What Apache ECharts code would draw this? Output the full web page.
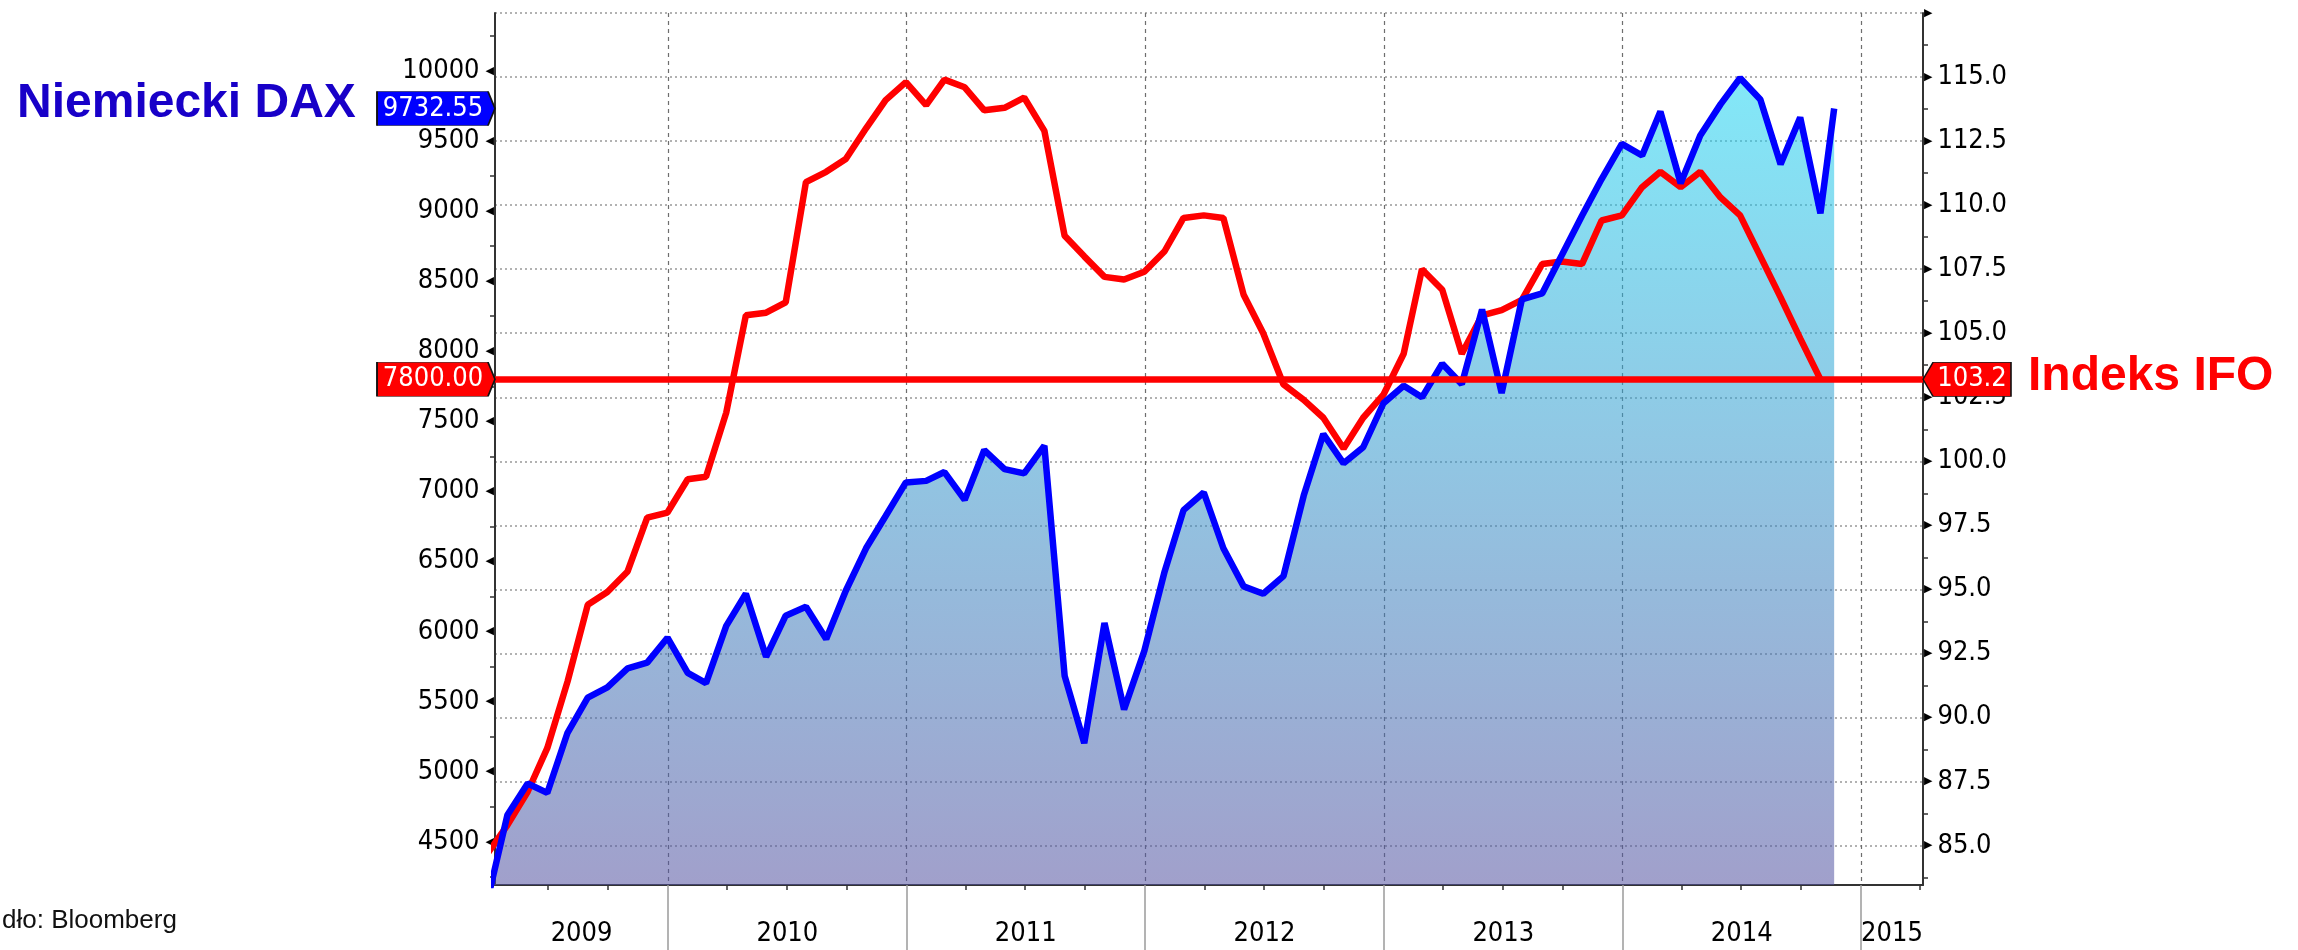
<!DOCTYPE html>
<html>
<head>
<meta charset="utf-8">
<script src="https://cdn.jsdelivr.net/npm/echarts@6/dist/echarts.min.js"></script>
<style>
  html, body { margin: 0; padding: 0; background: #fff; }
  #chart { width: 2298px; height: 950px; }
</style>
</head>
<body>
<div id="chart"></div>
<script>
  // month-end observations, Mar 2009 .. Oct 2014
  var months = [
    '2009-03', '2009-04', '2009-05', '2009-06', '2009-07', '2009-08', '2009-09', '2009-10', '2009-11', '2009-12',
    '2010-01', '2010-02', '2010-03', '2010-04', '2010-05', '2010-06', '2010-07', '2010-08', '2010-09', '2010-10', '2010-11', '2010-12',
    '2011-01', '2011-02', '2011-03', '2011-04', '2011-05', '2011-06', '2011-07', '2011-08', '2011-09', '2011-10', '2011-11', '2011-12',
    '2012-01', '2012-02', '2012-03', '2012-04', '2012-05', '2012-06', '2012-07', '2012-08', '2012-09', '2012-10', '2012-11', '2012-12',
    '2013-01', '2013-02', '2013-03', '2013-04', '2013-05', '2013-06', '2013-07', '2013-08', '2013-09', '2013-10', '2013-11', '2013-12',
    '2014-01', '2014-02', '2014-03', '2014-04', '2014-05', '2014-06', '2014-07', '2014-08', '2014-09', '2014-10'
  ]
  var daxLastDay = '2014-11-21'

  var dax = [
    4093, 4690, 4915, 4848, 5277, 5528, 5601, 5737, 5778, 5956,
    5705, 5632, 6040, 6270, 5820, 6113, 6176, 5946, 6291, 6594, 6824, 7064,
    7075, 7138, 6939, 7295, 7159, 7128, 7326, 5684, 5203, 6061, 5444, 5862,
    6427, 6866, 6992, 6594, 6322, 6270, 6395, 6970, 7409, 7200, 7315, 7629,
    7754, 7671, 7911, 7765, 8298, 7702, 8371, 8413, 8685, 8967, 9229, 9480,
    9397, 9711, 9199, 9540, 9762, 9950, 9797, 9335, 9668, 8985, 9732.55
  ]
  var ifo = [
    84.7, 85.8, 87.1, 88.8, 91.4, 94.4, 94.9, 95.7, 97.8, 98.0,
    99.3, 99.4, 101.9, 105.7, 105.8, 106.2, 110.9, 111.3, 111.8, 113.0, 114.1, 114.8,
    113.9, 114.9, 114.6, 113.7, 113.8, 114.2, 112.9, 108.8, 108.0, 107.2, 107.1, 107.4,
    108.2, 109.5, 109.6, 109.5, 106.5, 105.0, 103.0, 102.4, 101.7, 100.5, 101.7, 102.6,
    104.2, 107.5, 106.7, 104.2, 105.7, 105.9, 106.3, 107.7, 107.8, 107.7, 109.4, 109.6,
    110.7, 111.3, 110.7, 111.3, 110.3, 109.6, 108.0, 106.4, 104.8, 103.2
  ]
  // DAX level matching the IFO reference line
  var ifoLevelOnDax = 7800

  var years = [2009, 2010, 2011, 2012, 2013, 2014, 2015]
  var daxTicks = [4500, 5000, 5500, 6000, 6500, 7000, 7500, 8000, 8500, 9000, 9500, 10000]
  var ifoTicks = [85, 87.5, 90, 92.5, 95, 97.5, 100, 102.5, 105, 107.5, 110, 112.5, 115, 117.5]

  function monthEnd(s) { var p = s.split('-'); return Date.UTC(+p[0], +p[1], 0) }
  function day(s) { var p = s.split('-'); return Date.UTC(+p[0], +p[1] - 1, +p[2]) }

  var xMin = day('2009-04-11')
  var xMax = day('2015-04-06')

  var daxDates = months.map(monthEnd).concat(day(daxLastDay))
  var daxData = dax.map(function (v, i) { return [daxDates[i], v] })
  var ifoData = ifo.map(function (v, i) { return [monthEnd(months[i]), v] })
  var daxLast = dax[dax.length - 1]
  var ifoLast = ifo[ifo.length - 1]

  var yearStarts = years.map(function (y) { return Date.UTC(y, 0, 1) })
  var yearMids = years.map(function (y) {
    return (Math.max(Date.UTC(y, 0, 1), xMin) + Math.min(Date.UTC(y + 1, 0, 1), xMax)) / 2
  })
  var quarterTicks = []
  years.forEach(function (y) {
    [3, 6, 9].forEach(function (m) { quarterTicks.push(Date.UTC(y, m, 1)) })
  })
  var daxMinor = daxTicks.map(function (v) { return v - 250 }).concat(10250)
  var ifoMinor = ifoTicks.map(function (v) { return v - 1.25 })

  var labelFont = '"DejaVu Sans Condensed", "DejaVu Sans", sans-serif'
  var bigFont = 'bold 48px "Liberation Sans", Arial, sans-serif'
  var axisColor = '#333'
  var tickSize = 27

  var chart = echarts.init(document.getElementById('chart'))
  chart.setOption({
    animation: false,
    grid: { left: 495, right: 375, top: 13, bottom: 65 },
    xAxis: [
      {
        type: 'value', min: xMin, max: xMax, position: 'bottom',
        axisLine: { lineStyle: { color: axisColor, width: 2 } },
        axisTick: { customValues: quarterTicks, length: 5, lineStyle: { color: axisColor, width: 1.5 } },
        axisLabel: {
          customValues: yearMids, margin: 35, fontSize: tickSize, fontFamily: labelFont, color: '#000',
          formatter: function (v) { return String(new Date(v).getUTCFullYear()) }
        },
        splitLine: { show: false }
      },
      {
        type: 'value', min: xMin, max: xMax, position: 'bottom',
        axisLine: { show: false },
        axisLabel: { show: false },
        axisTick: { customValues: yearStarts, length: 66, lineStyle: { color: '#9a9a9a', width: 1.5 } },
        splitLine: { show: true, lineStyle: { color: '#6e6e6e', type: [4, 4], width: 1.2 } }
      }
    ],
    yAxis: [
      {
        type: 'value', position: 'left', min: 4191, max: 10414,
        axisLine: { show: true, lineStyle: { color: axisColor, width: 2 } },
        axisTick: { show: true, customValues: daxMinor, length: 5, lineStyle: { color: axisColor, width: 1.5 } },
        axisLabel: {
          customValues: daxTicks, margin: 1,
          formatter: function (v) { return '{v|' + v + '}{t|◀}' },
          rich: {
            v: { fontSize: tickSize, fontFamily: labelFont, color: '#000' },
            t: { fontSize: 11, fontFamily: 'DejaVu Sans', color: '#000', padding: [0, 0, 0, 6] }
          }
        },
        splitLine: { show: false }
      },
      {
        type: 'value', position: 'right', min: 83.46, max: 117.5,
        axisLine: { show: true, lineStyle: { color: axisColor, width: 2 } },
        axisTick: { show: false, customValues: ifoTicks },
        axisLabel: {
          customValues: ifoTicks, margin: 1,
          formatter: function (v) { return v > 115 ? '{t|▶}' : '{t|▶}{v|' + v.toFixed(1) + '}' },
          rich: {
            v: { fontSize: tickSize, fontFamily: labelFont, color: '#000' },
            t: { fontSize: 11, fontFamily: 'DejaVu Sans', color: '#000', padding: [0, 5, 0, 0] }
          }
        },
        splitLine: { show: true, lineStyle: { color: '#999', type: [2, 3], width: 1.5 } }
      },
      {
        type: 'value', position: 'right', min: 83.46, max: 117.5,
        axisLine: { show: false },
        axisLabel: { show: false },
        splitLine: { show: false },
        axisTick: { show: true, customValues: ifoMinor, length: 5, lineStyle: { color: axisColor, width: 1.5 } }
      }
    ],
    graphic: [
      { type: 'text', left: 17, top: 80, style: { text: 'Niemiecki DAX', font: bigFont, fill: '#1800c8' } },
      { type: 'text', left: 2028, top: 353, style: { text: 'Indeks IFO', font: bigFont, fill: '#ff0000' } },
      { type: 'text', left: 2, top: 908, style: { text: 'dło: Bloomberg', font: '26px "Liberation Sans", Arial, sans-serif', fill: '#111' } }
    ],
    series: [
      {
        name: 'DAX area', type: 'line', yAxisIndex: 0, data: daxData,
        symbol: 'none', silent: true, z: 1,
        lineStyle: { opacity: 0 },
        areaStyle: {
          opacity: 1,
          color: new echarts.graphic.LinearGradient(0, 0, 0, 1, [
            { offset: 0, color: 'rgba(28,213,242,0.55)' },
            { offset: 1, color: 'rgba(84,79,159,0.55)' }
          ])
        }
      },
      {
        name: 'Indeks IFO', type: 'line', yAxisIndex: 1, data: ifoData,
        symbol: 'none', z: 3,
        lineStyle: { color: '#ff0000', width: 6.5 },
        itemStyle: { color: '#ff0000' },
        markLine: {
          silent: true, symbol: 'none', label: { show: false },
          lineStyle: { color: '#ff0000', width: 6.5, type: 'solid' },
          data: [{ yAxis: ifoLast }]
        }
      },
      {
        name: 'Niemiecki DAX', type: 'line', yAxisIndex: 0, data: daxData,
        symbol: 'none', z: 4,
        lineStyle: { color: '#0000ff', width: 6.5 },
        itemStyle: { color: '#0000ff' }
      },
      {
        // value flags on the left axis
        type: 'scatter', yAxisIndex: 0, clip: false, z: 6, silent: true,
        symbol: 'path://M0,0L111,0L118,17L111,34L0,34Z',
        symbolSize: [118, 34], symbolOffset: [-59, 0],
        label: {
          show: true, position: 'inside', offset: [-3, 0], color: '#fff', fontSize: 27, fontFamily: labelFont,
          formatter: function (p) { return p.value[1].toFixed(2) }
        },
        data: [
          { value: [xMin, daxLast], itemStyle: { color: '#0000ff', opacity: 1, borderColor: '#111', borderWidth: 1 } },
          { value: [xMin, ifoLevelOnDax], itemStyle: { color: '#ff0000', opacity: 1, borderColor: '#111', borderWidth: 1 } }
        ]
      },
      {
        // value flag on the right axis
        type: 'scatter', yAxisIndex: 1, clip: false, z: 6, silent: true,
        symbol: 'path://M0,17L10,0L88,0L88,34L10,34Z',
        symbolSize: [88, 34], symbolOffset: [44, 0],
        label: {
          show: true, position: 'inside', offset: [5, 0], color: '#fff', fontSize: 27, fontFamily: labelFont,
          formatter: function (p) { return p.value[1].toFixed(1) }
        },
        data: [
          { value: [xMax, ifoLast], itemStyle: { color: '#ff0000', opacity: 1, borderColor: '#111', borderWidth: 1 } }
        ]
      }
    ]
  })
</script>
</body>
</html>
